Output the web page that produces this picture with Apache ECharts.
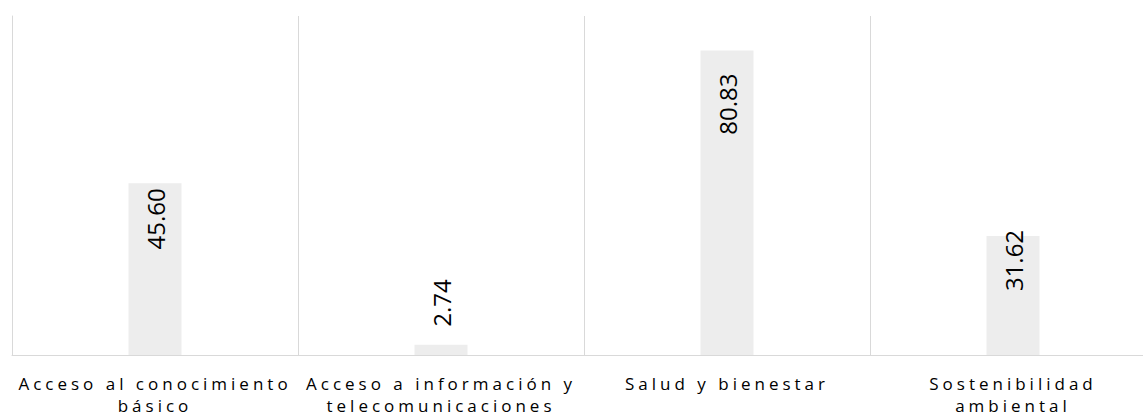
<!DOCTYPE html>
<html>
<head>
<meta charset="utf-8">
<script src="https://cdn.jsdelivr.net/npm/echarts@6/dist/echarts.min.js"></script>
<style>
  html, body { margin: 0; padding: 0; background: #fff; }
  #chart { width: 1143px; height: 416px; }
  /* category labels are letter-spaced in the original */
  #chart text[style*="17px"] { letter-spacing: 4px; }
</style>
</head>
<body>
<div id="chart"></div>
<script>
const categories = [
  "Acceso al conocimiento\nbásico",
  "Acceso a información y\ntelecomunicaciones",
  "Salud y bienestar",
  "Sostenibilidad\nambiental",
];
const values = [45.6, 2.74, 80.83, 31.62];

// where each rotated value label sits relative to its bar
const labelPlacement = [
  { position: "insideTop", distance: 5, align: "right" },
  { position: "top", distance: 18, align: "left" },
  { position: "insideTop", distance: 23, align: "right" },
  { position: "insideTop", distance: -6, align: "right" },
];

const chart = echarts.init(document.getElementById("chart"), null, { renderer: "svg" });

const option = {
  animation: false,
  // plot runs past the right edge of the window, as in the original
  grid: { left: 12, top: 16, bottom: 61, width: 1144, outerBoundsMode: "none", containLabel: false },
  xAxis: {
    type: "category",
    data: categories,
    axisLine: { lineStyle: { color: "#d9d9d9", width: 1 } },
    axisTick: { show: false },
    splitLine: { show: true, interval: 0, lineStyle: { color: "#d9d9d9", width: 1 } },
    axisLabel: {
      interval: 0,
      margin: 17,
      fontFamily: "Open Sans",
      fontSize: 17,
      lineHeight: 22,
      color: "#000000",
    },
  },
  yAxis: {
    type: "value",
    min: 0,
    max: 90,
    axisLine: { show: true, lineStyle: { color: "#d9d9d9", width: 1 } },
    axisTick: { show: false },
    axisLabel: { show: false },
    splitLine: { show: false },
  },
  series: [
    {
      type: "bar",
      barWidth: 53,
      itemStyle: { color: "#ededed" },
      data: values.map((v, i) => ({
        value: v,
        label: {
          show: true,
          rotate: 90,
          position: labelPlacement[i].position,
          distance: labelPlacement[i].distance,
          align: labelPlacement[i].align,
          verticalAlign: "middle",
          formatter: (p) => p.value.toFixed(2),
          fontFamily: "Open Sans",
          fontSize: 24,
          color: "#000000",
        },
      })),
    },
  ],
};

chart.setOption(option);
</script>
</body>
</html>
